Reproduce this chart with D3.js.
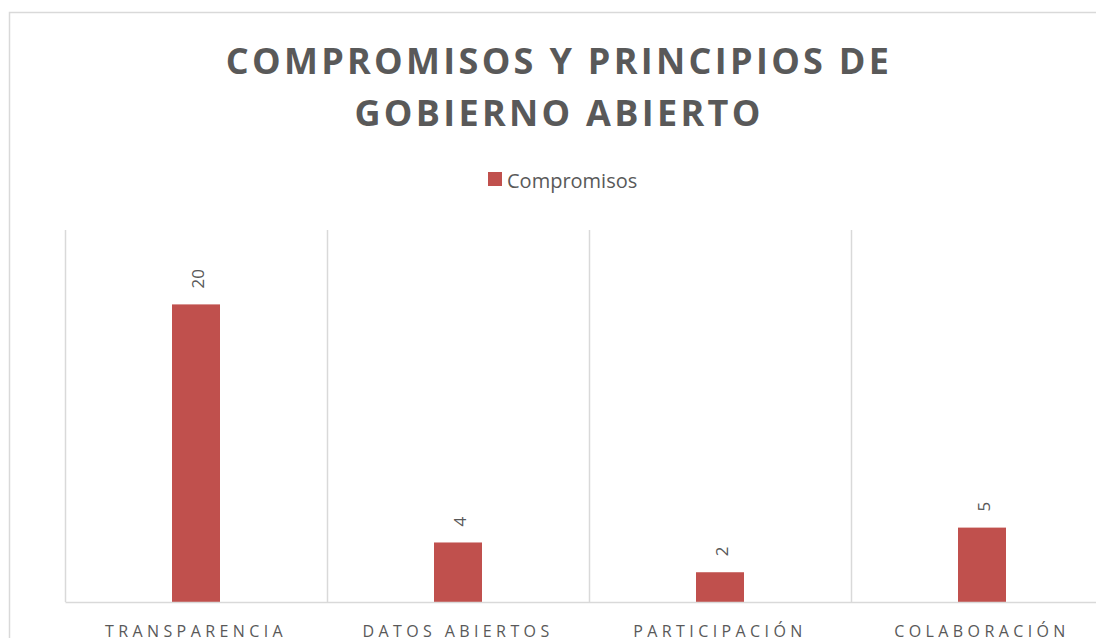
<!DOCTYPE html>
<html>
<head>
<meta charset="utf-8">
<script src="https://cdn.jsdelivr.net/npm/d3@7"></script>
<style>
  body { margin: 0; background: #fff; }
  svg { display: block; font-family: 'Open Sans', sans-serif; }
</style>
</head>
<body>
<div id="chart"></div>
<script>
const categories = ['TRANSPARENCIA', 'DATOS ABIERTOS', 'PARTICIPACIÓN', 'COLABORACIÓN']
const compromisos = [20, 4, 2, 5]
const titleLines = ['COMPROMISOS Y PRINCIPIOS DE', 'GOBIERNO ABIERTO']
const seriesName = 'Compromisos'

const W = 1096, H = 638
const color = '#c0504d', textColor = '#595959', gridColor = '#d9d9d9'
const margin = { top: 230, left: 65, bottom: 36 }
const plotW = 262 * categories.length
const plotH = H - margin.top - margin.bottom

const svg = d3.select('#chart').append('svg').attr('width', W).attr('height', H)

// outer frame
svg.append('rect').attr('x', 9.5).attr('y', 12.5).attr('width', 1110).attr('height', 660)
  .attr('fill', 'none').attr('stroke', gridColor).attr('stroke-width', 1.5)

// title
svg.append('text').attr('text-anchor', 'middle').attr('fill', textColor)
  .attr('font-size', 36).attr('font-weight', 700).attr('letter-spacing', 3.3)
  .selectAll('tspan').data(titleLines).enter().append('tspan')
  .attr('x', 559).attr('y', (d, i) => 74 + i * 52).text(d => d)

// legend
const lg = svg.append('g').attr('transform', 'translate(488,172)')
lg.append('rect').attr('width', 14).attr('height', 14).attr('fill', color)
lg.append('text').attr('x', 19).attr('y', 16).attr('font-size', 20).attr('fill', textColor).text(seriesName)

const x = d3.scaleBand().domain(categories).range([0, plotW])
const y = d3.scaleLinear().domain([0, 25]).range([plotH, 0])
const barW = 48

const g = svg.append('g').attr('transform', `translate(${margin.left},${margin.top})`)

// category separators
g.selectAll('.grid').data(categories).enter().append('line')
  .attr('x1', d => x(d) + 0.5).attr('x2', d => x(d) + 0.5)
  .attr('y1', 0).attr('y2', plotH)
  .attr('stroke', gridColor).attr('stroke-width', 1.5)

// bars
const data = categories.map((c, i) => ({ name: c, value: compromisos[i] }))
g.selectAll('.bar').data(data).enter().append('rect')
  .attr('x', d => x(d.name) + x.bandwidth() / 2 - barW / 2)
  .attr('y', d => y(d.value))
  .attr('width', barW).attr('height', d => plotH - y(d.value))
  .attr('fill', color)

// value labels
g.selectAll('.label').data(data).enter().append('text')
  .attr('transform', d => `translate(${x(d.name) + x.bandwidth() / 2 + 1},${y(d.value) - 16}) rotate(-90)`)
  .attr('dominant-baseline', 'central')
  .attr('font-size', 17).attr('fill', textColor)
  .text(d => d.value)

// x axis
const ax = g.append('g').attr('transform', `translate(0,${plotH})`)
  .call(d3.axisBottom(x).tickSize(0).tickPadding(21))
ax.select('.domain').attr('stroke', gridColor).attr('stroke-width', 1.5)
ax.selectAll('text').attr('font-size', 16).attr('fill', textColor)
  .attr('letter-spacing', 4.4).attr('font-family', "'Open Sans', sans-serif")
  .attr('dy', null).attr('dominant-baseline', 'hanging')
</script>
</body>
</html>
